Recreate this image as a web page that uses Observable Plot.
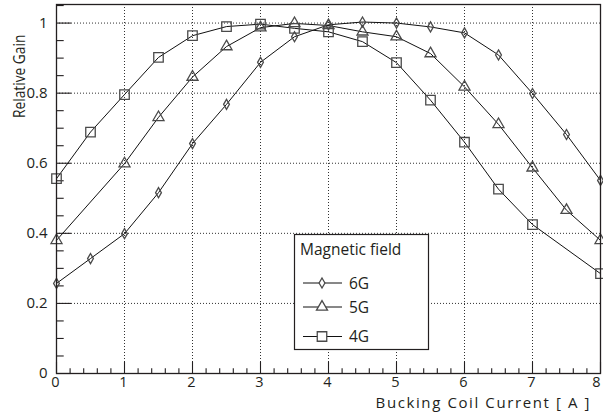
<!DOCTYPE html>
<html>
<head>
<meta charset="utf-8">
<script src="https://cdn.jsdelivr.net/npm/d3@7"></script>
<script src="https://cdn.jsdelivr.net/npm/@observablehq/plot@0.6"></script>
<style>
  html, body { margin: 0; padding: 0; background: #fff; }
  #chart { position: relative; width: 603px; height: 415px; }
</style>
</head>
<body>
<div id="chart"></div>
<script>
// Relative gain vs. bucking coil current, for three magnetic fields
const current6G = [0, 0.5, 1, 1.5, 2, 2.5, 3, 3.5, 4, 4.5, 5, 5.5, 6, 6.5, 7, 7.5, 8];
const gain6G    = [0.257, 0.328, 0.399, 0.516, 0.656, 0.768, 0.888, 0.961, 0.995, 1.003, 1.0, 0.989, 0.972, 0.909, 0.799, 0.682, 0.551];

const current5G = [0, 1, 1.5, 2, 2.5, 3, 3.5, 4, 4.5, 5, 5.5, 6, 6.5, 7, 7.5, 8];
const gain5G    = [0.38, 0.599, 0.731, 0.846, 0.933, 0.987, 0.999, 0.993, 0.975, 0.961, 0.913, 0.818, 0.711, 0.587, 0.466, 0.38];

const current4G = [0, 0.5, 1, 1.5, 2, 2.5, 3, 3.5, 4, 4.5, 5, 5.5, 6, 6.5, 7, 8];
const gain4G    = [0.556, 0.689, 0.796, 0.902, 0.964, 0.99, 0.997, 0.985, 0.975, 0.947, 0.887, 0.78, 0.66, 0.526, 0.425, 0.285];

const seriesNames = ["6G", "5G", "4G"];
const xTicks = [0, 1, 2, 3, 4, 5, 6, 7, 8];
const xMinorTicks = d3.range(0, 8.001, 0.2).map(v => +v.toFixed(1)).filter(v => !xTicks.includes(v));
const yTicks = [0, 0.2, 0.4, 0.6, 0.8, 1];
const yMinorTicks = [0.05, 0.1, 0.15, 0.25, 0.3, 0.35, 0.45, 0.5, 0.55, 0.65, 0.7, 0.75, 0.85, 0.9, 0.95, 1.05];
const xGrid = [1, 2, 3, 4, 5, 6, 7];
const yGrid = [0.2, 0.4, 0.6, 0.8, 1];

const rows = (name, xs, ys) => xs.map((x, i) => ({field: name, current: x, gain: ys[i]}));
const data6G = rows("6G", current6G, gain6G);
const data5G = rows("5G", current5G, gain5G);
const data4G = rows("4G", current4G, gain4G);

const symbols = {"6G": "diamond", "5G": "triangle", "4G": "square"};
const radii = {"6G": 3.05, "5G": 4.1, "4G": 5.35};
const d3Symbols = {"6G": d3.symbolDiamond, "5G": d3.symbolTriangle, "4G": d3.symbolSquare};

const ink = "#231f20";
const markerStroke = "#4a4a4a";
const font = "'Open Sans', 'Noto Sans', sans-serif";

const series = [data6G, data5G, data4G];

const chart = Plot.plot({
  width: 603,
  height: 415,
  marginLeft: 56,
  marginRight: 3,
  marginTop: 4,
  marginBottom: 42,
  style: {fontFamily: font, color: ink, background: "#fff"},
  x: {domain: [0, 8]},
  y: {domain: [0, 1.053]},
  marks: [
    Plot.gridX(xGrid, {stroke: "#000", strokeOpacity: 0.9, strokeDasharray: "1,2", strokeWidth: 0.9}),
    Plot.gridY(yGrid, {stroke: "#000", strokeOpacity: 0.9, strokeDasharray: "1,2", strokeWidth: 0.9}),
    Plot.axisY(yTicks, {tickSize: -15, text: null, label: null, stroke: ink, strokeWidth: 1.1}),
    Plot.axisY(yMinorTicks, {tickSize: -7.7, text: null, label: null, stroke: ink, strokeWidth: 1.1}),
    Plot.axisY(yTicks, {tickSize: 0, tickPadding: 9, label: null, fontSize: 15, fill: ink, tickFormat: d => String(d)}),
    Plot.axisX(xTicks, {tickSize: -11.5, text: null, label: null, stroke: ink, strokeWidth: 1.1}),
    Plot.axisX(xMinorTicks, {tickSize: -4.7, text: null, label: null, stroke: ink, strokeWidth: 1.1}),
    Plot.axisX(xTicks.slice(0, -1), {tickSize: 0, tickPadding: 3, dx: -1, label: null, fontSize: 14.5, fill: ink, tickFormat: d => String(d)}),
    Plot.axisX(xTicks.slice(-1), {tickSize: 0, tickPadding: 3, dx: -4, label: null, fontSize: 14.5, fill: ink, tickFormat: d => String(d)}),
    ...series.map(s => Plot.line(s, {x: "current", y: "gain", stroke: "#111", strokeWidth: 1})),
    ...series.map(s => Plot.dot(s, {
      x: "current", y: "gain",
      symbol: () => symbols[s[0].field],
      r: radii[s[0].field],
      fill: "none", stroke: markerStroke, strokeWidth: 1.3
    })),
    Plot.frame({stroke: ink, strokeWidth: 1.3})
  ]
});

document.getElementById("chart").appendChild(chart);

// Axis titles and legend panel
const svg = d3.select(chart);

const addText = (sel, attrs, str) => {
  const t = sel.append("text");
  Object.entries(attrs).forEach(([k, v]) => t.attr(k, v));
  t.style("font-family", font).style("fill", ink);
  return t.text(str);
};

addText(svg, {x: 591, y: 408, "text-anchor": "end", "font-size": 15, "letter-spacing": 1.6}, "Bucking Coil Current [ A ]");

// condensed vertical title
addText(svg, {
  transform: "translate(25,118) rotate(-90) scale(0.86,1)", "text-anchor": "start", "font-size": 16
}, "Relative Gain");

const legend = svg.append("g");
legend.append("rect")
  .attr("x", 294.5).attr("y", 234.5)
  .attr("width", 134).attr("height", 115)
  .attr("fill", "#fff").attr("stroke", ink).attr("stroke-width", 1.2);
addText(legend, {x: 300, y: 255, "text-anchor": "start", "font-size": 15.5}, "Magnetic field");

const rowY = [283, 307, 336.5];
seriesNames.forEach((name, i) => {
  const y = rowY[i];
  legend.append("line")
    .attr("x1", 303).attr("x2", 342).attr("y1", y).attr("y2", y)
    .attr("stroke", "#111").attr("stroke-width", 1);
  legend.append("path")
    .attr("transform", `translate(322,${y})`)
    .attr("d", d3.symbol(d3Symbols[name], Math.PI * radii[name] ** 2)())
    .attr("fill", "#fff").attr("stroke", markerStroke).attr("stroke-width", 1.3);
  addText(legend, {x: 349, y: y + 5.5, "text-anchor": "start", "font-size": 15.5}, name);
});
</script>
</body>
</html>
